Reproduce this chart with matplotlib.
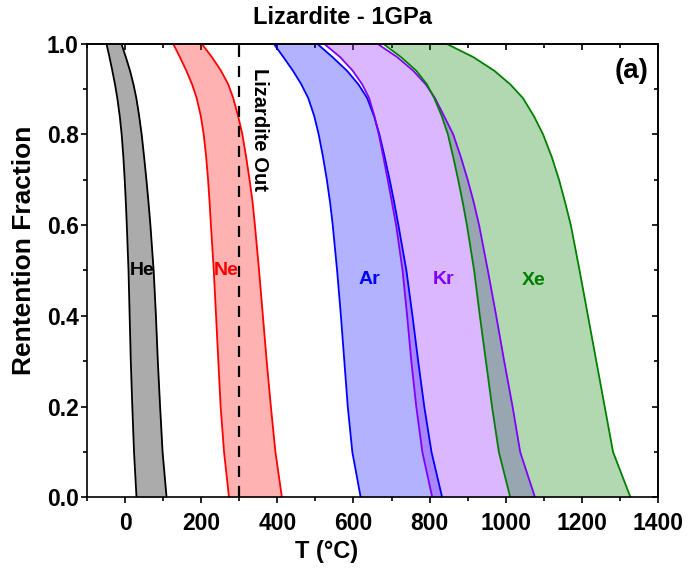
import matplotlib
matplotlib.use("Agg")
import matplotlib.pyplot as plt
from matplotlib.ticker import MultipleLocator

plt.rcParams['font.family'] = ['Liberation Sans', 'DejaVu Sans']
plt.rcParams['font.weight'] = 'bold'

# Retention fraction levels (y) and temperatures (°C) of band edges
frac = [1.0, 0.97, 0.94, 0.91, 0.88, 0.84, 0.80, 0.75, 0.70, 0.65, 0.60, 0.50, 0.40, 0.30, 0.20, 0.10, 0.0]

he_lo = [-49, -41, -33.5, -26.5, -20.5, -14, -9, -4.5, -1, 2, 4.5, 9, 12, 15, 19, 23.5, 30]
he_hi = [-10, 2, 13, 22, 29.5, 37, 43.5, 50, 56, 61.5, 66.5, 75, 81, 86, 92, 98.5, 109]

ne_lo = [126, 144, 161, 176, 188, 199, 206.5, 213, 218, 222, 225.5, 233, 239, 245, 251, 260, 273]
ne_hi = [201, 228, 252, 271, 284, 297, 308, 318, 327, 335, 341, 352, 362, 372, 383, 395, 412]

ar_lo = [390, 416, 441, 463, 481, 497, 508.5, 520, 530, 538.5, 545.5, 557, 567, 576, 585, 597, 619]
ar_hi = [504, 545, 583, 613, 636, 654, 668, 682, 695, 707, 718, 739, 755, 770, 786, 805, 833]

kr_lo = [522, 565, 598, 623, 641, 655, 666.5, 678.5, 690, 701, 712, 729, 741, 752, 765, 781, 807]
kr_hi = [662, 715, 757, 790, 814, 838, 862, 882, 900, 916, 930, 953, 975, 996, 1018, 1038, 1077]

xe_lo = [677, 725, 765, 793, 812, 832, 848, 862, 875, 887, 898, 917, 932, 948, 964, 982, 1012]
xe_hi = [843, 915, 970, 1012, 1045, 1074, 1098, 1121, 1140, 1156, 1171, 1194, 1216, 1238, 1260, 1282, 1328]

gases = ['He', 'Ne', 'Ar', 'Kr', 'Xe']
lows = [he_lo, ne_lo, ar_lo, kr_lo, xe_lo]
highs = [he_hi, ne_hi, ar_hi, kr_hi, xe_hi]
line_colors = ['black', '#ff0000', '#0000ff', '#8000ff', '#008000']
fill_colors = ['#000000', '#ff0000', '#0000ff', '#9933ff', '#008000']
fill_alpha = [0.33, 0.3, 0.3, 0.35, 0.3]
label_pos = [(44, 0.50), (265, 0.50), (643, 0.48), (837, 0.48), (1073, 0.477)]
label_colors = ['black', '#ff0000', '#0000ff', '#8000ff', '#008000']

lizardite_out_T = 300

fig = plt.figure(figsize=(6.89, 5.74), dpi=100)
ax = fig.add_axes([0.1263, 0.1333, 0.955 - 0.1263, 0.9242 - 0.1333])

for lo, hi, lc, fc, a in zip(lows, highs, line_colors, fill_colors, fill_alpha):
    ax.fill_betweenx(frac, lo, hi, color=fc, alpha=a, linewidth=0)
for lo, hi, lc in zip(lows, highs, line_colors):
    ax.plot(lo, frac, color=lc, lw=1.3)
    ax.plot(hi, frac, color=lc, lw=1.3)

ax.plot([lizardite_out_T, lizardite_out_T], [0, 1], color='black', lw=1.6,
        dashes=(5, 4))

for g, (tx, ty), c in zip(gases, label_pos, label_colors):
    ax.text(tx, ty, g, color=c, fontsize=14, fontweight='bold', ha='center', va='center')

ax.text(354, 0.81, 'Lizardite Out', rotation=270, fontsize=14.5, fontweight='bold',
        ha='center', va='center', color='black')
ax.text(1330, 0.94, '(a)', fontsize=20, fontweight='bold', ha='center', va='center')

ax.set_xlim(-100, 1400)
ax.set_ylim(0, 1.0)
ax.xaxis.set_major_locator(MultipleLocator(200))
ax.xaxis.set_minor_locator(MultipleLocator(100))
ax.yaxis.set_major_locator(MultipleLocator(0.2))
ax.yaxis.set_minor_locator(MultipleLocator(0.1))
ax.tick_params(which='both', direction='out', top=False, right=False, width=1.2,
               labelsize=16.5)
ax.tick_params(which='major', length=4.5)
ax.tick_params(which='minor', length=3)
ax.tick_params(axis='x', which='major', pad=6)
ax.tick_params(axis='y', which='major', pad=1.5)
for lab in ax.get_xticklabels() + ax.get_yticklabels():
    lab.set_fontweight('bold')

secx = ax.secondary_xaxis('top')
secx.xaxis.set_major_locator(MultipleLocator(200))
secx.xaxis.set_minor_locator(MultipleLocator(100))
secx.tick_params(which='both', direction='in', labeltop=False, width=1.2)
secx.tick_params(which='major', length=4.5)
secx.tick_params(which='minor', length=3)
secy = ax.secondary_yaxis('right')
secy.yaxis.set_major_locator(MultipleLocator(0.2))
secy.yaxis.set_minor_locator(MultipleLocator(0.1))
secy.tick_params(which='both', direction='in', labelright=False, width=1.2)
secy.tick_params(which='major', length=4.5)
secy.tick_params(which='minor', length=3)

for s in list(ax.spines.values()) + list(secx.spines.values()) + list(secy.spines.values()):
    s.set_linewidth(1.2)

ax.set_xlabel('T (°C)', fontsize=17, fontweight='bold')
ax.xaxis.label.set_verticalalignment('center')
ax.xaxis.set_label_coords(0.42, -0.118)
ax.set_ylabel('Rentention Fraction', fontsize=19, fontweight='bold')
ax.yaxis.label.set_verticalalignment('center')
ax.yaxis.set_label_coords(-0.111, 0.545)
fig.text(0.497, 0.970, 'Lizardite - 1GPa', fontsize=17, fontweight='bold',
         ha='center', va='center')

fig.savefig('out.png', dpi=100)
